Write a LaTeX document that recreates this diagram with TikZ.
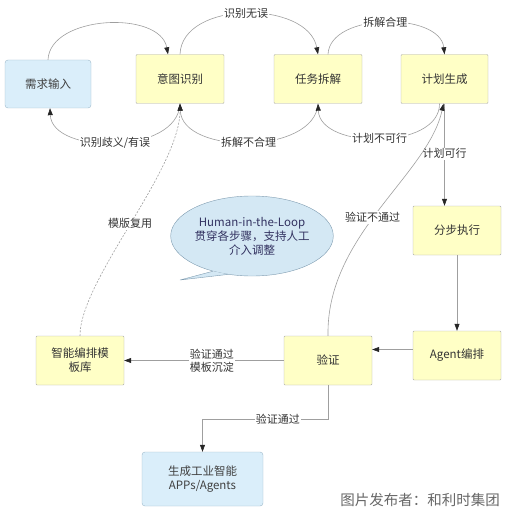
\documentclass[tikz,border=0pt]{standalone}
\usepackage{fontspec}
\setmainfont{Noto Sans CJK SC}
\usetikzlibrary{arrows.meta,shapes.geometric,calc}

\definecolor{boxyellow}{HTML}{FFFFC6}
\definecolor{boxblue}{HTML}{DAEEFA}
\definecolor{bluedraw}{HTML}{9DB8CA}
\definecolor{bubblefill}{HTML}{D4E8F4}
\definecolor{bubbledraw}{HTML}{7F9CB0}

\begin{document}
\begin{tikzpicture}[
          x=1pt, y=-1pt,
          box/.style={draw=gray!65, fill=boxyellow, rounded corners=1pt,
            minimum width=88pt, minimum height=49pt, align=center,
            font=\fontsize{11.5}{14}\selectfont, text=black!80},
          bluebox/.style={box, draw=bluedraw, fill=boxblue, rounded corners=3pt, text=black!75},
          lbl/.style={font=\fontsize{11}{13}\selectfont, fill=white, inner sep=1pt,
            text=black!80, align=center},
          arr/.style={draw=gray!75, line width=0.6pt,
            -{Triangle[length=7pt, width=5pt, color=black!85]}}
      ]
        \useasboundingbox (0,0) rectangle (509,513);
        % top row
        \node[bluebox, minimum width=86pt, minimum height=48pt] (req) at (48,84) {需求输入};
        \node[box] (intent) at (180,79) {意图识别};
        \node[box] (task) at (318,79) {任务拆解};
        \node[box, minimum width=87pt] (plan) at (444.5,79) {计划生成};
        % right column and bottom row
        \node[box] (step) at (457,230.5) {分步执行};
        \node[box] (agent) at (457,355.5) {Agent编排};
        \node[box] (verify) at (328,360.5) {验证};
        \node[box] (lib) at (80,360.5) {智能编排模\\板库};
        \node[bluebox, minimum width=121pt, minimum height=54pt] (out) at (202.5,479) {生成工业智能\\APPs/Agents};

        % forward arcs over the top
        \draw[arr] (req.north) .. controls (50,15) and (160,10) .. ([xshift=-12pt]intent.north);
        \draw[arr] (intent.north) .. controls (182,0) and (308,0) .. (task.north)
          node[lbl, pos=0.5] {识别无误};
        \draw[arr] ([xshift=10pt]task.north) .. controls (330,12) and (440,12) .. (plan.north)
          node[lbl, pos=0.5] {拆解合理};
        % backward arcs underneath
        \draw[arr] (intent.south) .. controls (178,155) and (52,155) .. ([xshift=2pt]req.south)
          node[lbl, pos=0.5] {识别歧义/有误};
        \draw[arr] (task.south) .. controls (315,155) and (182,155) .. (intent.south)
          node[lbl, pos=0.5] {拆解不合理};
        \draw[arr] ([xshift=-5pt]plan.south) .. controls (440,150) and (320,150) .. (task.south)
          node[lbl, pos=0.5] {计划不可行};

        % execution chain
        \draw[arr] (plan.south) -- (plan.south |- step.north)
          node[lbl, pos=0.49] {计划可行};
        \draw[arr] (step.south) -- (agent.north);
        \draw[arr] ([yshift=6pt]agent.west) -- ([yshift=6pt]agent.west -| verify.east);
        \draw[arr] (verify.west) -- (lib.east)
          node[lbl, pos=0.45] {验证通过\\模板沉淀};
        \draw[arr] (verify.north) .. controls (326,235) and (428,175) .. ([xshift=-1pt]plan.south)
          node[lbl, pos=0.46] {验证不通过};
        \draw[arr, dash pattern=on 2pt off 1.5pt] (lib.north) .. controls (80,280) and (180,170) .. (intent.south)
          node[lbl, pos=0.5] {模版复用};
        \draw[arr] (verify.south) -- ++(0,34) -| (out.north)
          node[lbl, pos=0.2] {验证通过};

        % human-in-the-loop callout
        \node[ellipse, draw=bubbledraw, fill=bubblefill, minimum width=144pt, minimum height=80pt,
          align=center, inner sep=0pt, font=\fontsize{11.5}{14}\selectfont, text=black!70!blue!60!gray]
          (hitl) at (252,236) {Human-in-the-Loop\\贯穿各步骤，支持人工\\介入调整};
        \coordinate (tip) at (180,280);
        \fill[bubblefill] (hitl.222) -- (tip) -- (hitl.238) -- cycle;
        \draw[bubbledraw] (hitl.222) -- (tip) -- (hitl.238);

        \node[font=\fontsize{14.5}{16}\selectfont, text=black!60] (credit) at (420,500) {图片发布者：和利时集团};
      \end{tikzpicture}
\end{document}
